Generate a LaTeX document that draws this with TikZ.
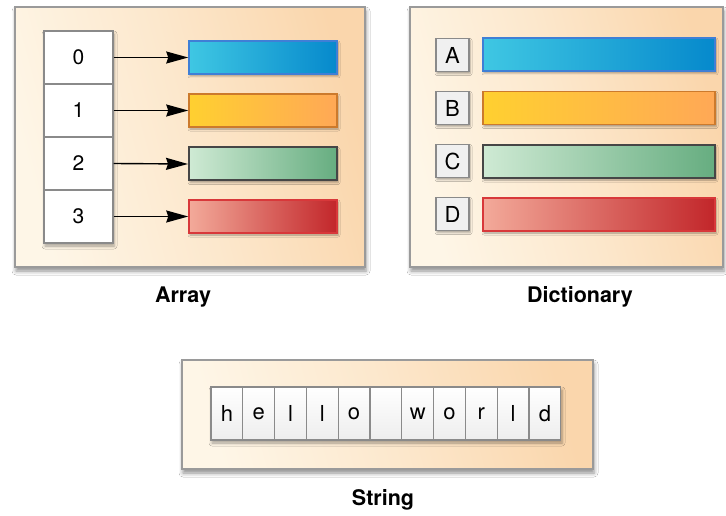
\documentclass[tikz,border=0pt]{standalone}
\usepackage{fontspec}
\setmainfont{TeX Gyre Heros}
\usetikzlibrary{arrows.meta,shadows.blur}
\definecolor{panelA}{HTML}{FEF6E7}
\definecolor{panelB}{HTML}{FAD6AC}
\definecolor{panelBorder}{HTML}{9A9A9A}
\definecolor{cellBorder}{HTML}{8A8A8A}
\definecolor{blueL}{HTML}{3FC7E3}
\definecolor{blueM}{HTML}{39C2E0}
\definecolor{blueR}{HTML}{0689CC}
\definecolor{blueB}{HTML}{3F7FD6}
\definecolor{orL}{HTML}{FFD030}
\definecolor{orM}{HTML}{FFC63A}
\definecolor{orR}{HTML}{FFA856}
\definecolor{orB}{HTML}{CC7A2C}
\definecolor{grL}{HTML}{CFEAD4}
\definecolor{grM}{HTML}{A3D2AE}
\definecolor{grR}{HTML}{66AD80}
\definecolor{grB}{HTML}{464646}
\definecolor{rdL}{HTML}{F3AA9A}
\definecolor{rdM}{HTML}{DE7466}
\definecolor{rdR}{HTML}{C2262A}
\definecolor{rdB}{HTML}{D8383A}
\tikzset{
  panel/.style={draw=panelBorder, line width=1.3pt, left color=panelA, right color=panelB,
    middle color=panelA!55!panelB, shading angle=105,
    blur shadow={shadow xshift=1pt, shadow yshift=-4pt, shadow blur radius=4pt, shadow opacity=45},
    inner sep=0pt},
  idxcell/.style={draw=cellBorder, line width=1.3pt, fill=white, minimum width=69pt,
    minimum height=53pt, inner sep=0pt, font=\fontsize{21}{23}\selectfont},
  keybox/.style={draw=cellBorder, line width=1.8pt, fill=black!6, minimum width=33pt,
    minimum height=33pt, inner sep=0pt, font=\fontsize{22}{24}\selectfont,
    blur shadow={shadow xshift=1pt, shadow yshift=-2pt, shadow blur radius=2pt, shadow opacity=35}},
  strcell/.style={draw=cellBorder, line width=1.3pt, top color=white, bottom color=black!7,
    minimum width=31.8pt, minimum height=53pt, inner sep=0pt, font=\fontsize{22}{24}\selectfont},
  barbase/.style={line width=1.5pt, minimum height=33pt, inner sep=0pt,
    blur shadow={shadow xshift=1pt, shadow yshift=-2pt, shadow blur radius=2pt, shadow opacity=35}},
  bluebar/.style={barbase, draw=blueB, left color=blueL, middle color=blueM, right color=blueR},
  orangebar/.style={barbase, draw=orB, left color=orL, middle color=orM, right color=orR},
  greenbar/.style={barbase, draw=grB, line width=2pt, left color=grL, middle color=grM, right color=grR},
  redbar/.style={barbase, draw=rdB, left color=rdL, middle color=rdM, right color=rdR},
  ptr/.style={line width=1.4pt, -{Stealth[length=22pt, width=12pt, inset=2pt]}},
  caption/.style={font=\fontsize{21.5}{24}\selectfont\bfseries}
}
\begin{document}
\begin{tikzpicture}[x=1pt,y=-1pt]
\useasboundingbox (0,0) rectangle (726,516);
\fill[white] (0,0) rectangle (726,516);
% panels
\node[panel, minimum width=350pt, minimum height=260pt] (arrpanel) at (190,137) {};
\node[panel, minimum width=313pt, minimum height=260pt] (dictpanel) at (566.5,137) {};
\node[panel, minimum width=411pt, minimum height=109pt] (strpanel) at (387.5,414.5) {};
% array index column shadow
\node[blur shadow={shadow xshift=1pt, shadow yshift=-3pt, shadow blur radius=3pt, shadow opacity=35},
  fill=white, minimum width=69pt, minimum height=212pt, inner sep=0pt] (idxcol) at (78.5,137) {};
\node[idxcell] (i0) at (78.5,57.5) {0};
\node[idxcell] (i1) at (78.5,110.5) {1};
\node[idxcell] (i2) at (78.5,163.5) {2};
\node[idxcell] (i3) at (78.5,216.5) {3};
% array bars
\node[bluebar, minimum width=148pt] (a0) at (263,57.5) {};
\node[orangebar, minimum width=148pt] (a1) at (263,110.5) {};
\node[greenbar, minimum width=148pt] (a2) at (263,164) {};
\node[redbar, minimum width=148pt] (a3) at (263,216.5) {};
\draw[ptr] (i0.east) -- (a0.west);
\draw[ptr] (i1.east) -- (a1.west);
\draw[ptr] (i2.east) -- (a2.west);
\draw[ptr] (i3.east) -- (a3.west);
% dictionary
\node[keybox] (kA) at (452.5,55) {A};
\node[keybox] (kB) at (452.5,108) {B};
\node[keybox] (kC) at (452.5,161) {C};
\node[keybox] (kD) at (452.5,214) {D};
\node[bluebar, minimum width=232pt] (dA) at (599,54.5) {};
\node[orangebar, minimum width=232pt] (dB) at (599,108) {};
\node[greenbar, minimum width=232pt] (dC) at (599,161.5) {};
\node[redbar, minimum width=232pt] (dD) at (599,214.5) {};
% string
\node[blur shadow={shadow xshift=1pt, shadow yshift=-3pt, shadow blur radius=3pt, shadow opacity=35},
  fill=white, minimum width=350pt, minimum height=53pt, inner sep=0pt] (strrow) at (386,413.5) {};
\foreach \ch [count=\k from 0] in {h,e,l,l,o,{},w,o,r,l,d} {
  \node[strcell] (s\k) at (226.9+31.8*\k,413.5) {\ch};
}
% captions
\node[caption] (capA) at (183,297) {Array};
\node[caption] (capD) at (580,297) {Dictionary};
\node[caption] (capS) at (383,500) {String};
\end{tikzpicture}
\end{document}
